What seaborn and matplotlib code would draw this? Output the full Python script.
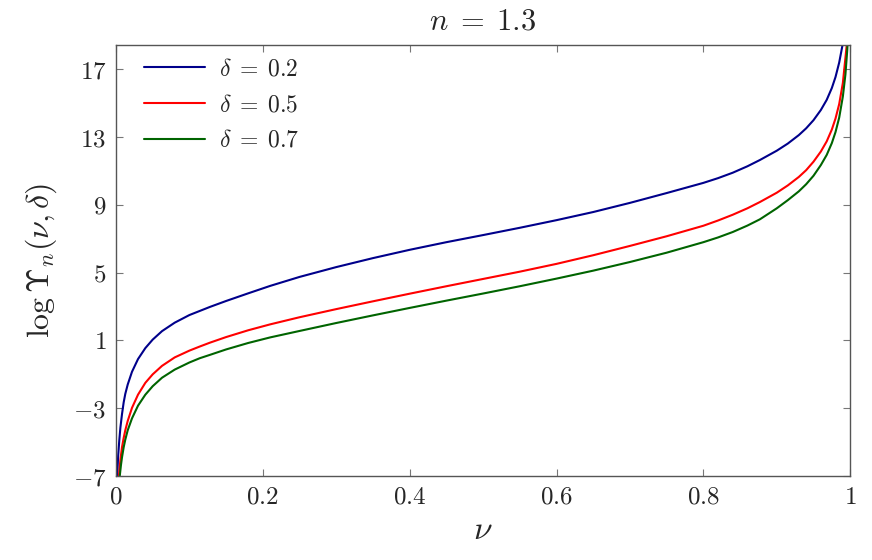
import pandas as pd
import matplotlib

matplotlib.use('Agg')
import matplotlib.pyplot as plt
import seaborn as sns

# values (nu, log Upsilon)
nu_blue = [0.0012, 0.002, 0.003, 0.0045, 0.006, 0.0082, 0.0105, 0.0127, 0.016, 0.0218,
           0.03, 0.04, 0.05, 0.0627, 0.08, 0.1, 0.114, 0.128, 0.15, 0.18,
           0.21, 0.25, 0.3, 0.35, 0.4, 0.45, 0.5, 0.55, 0.6, 0.65,
           0.7, 0.75, 0.8, 0.82, 0.84, 0.86, 0.877, 0.9, 0.915, 0.93,
           0.94, 0.95, 0.96, 0.968, 0.975, 0.98, 0.985, 0.9896, 0.992]
y_blue = [-7.6, -6.7, -5.8, -4.9, -4.15, -3.35, -2.65, -2.15, -1.6, -0.85,
          -0.1, 0.55, 1.05, 1.55, 2.05, 2.5, 2.74, 2.98, 3.33, 3.78,
          4.22, 4.75, 5.33, 5.86, 6.35, 6.8, 7.22, 7.65, 8.1, 8.58,
          9.12, 9.7, 10.3, 10.58, 10.9, 11.28, 11.65, 12.2, 12.62, 13.12,
          13.52, 14.0, 14.6, 15.2, 15.9, 16.55, 17.4, 18.45, 19.0]

nu_red = [0.003, 0.0045, 0.006, 0.0082, 0.0105, 0.0127, 0.016, 0.0218,
          0.03, 0.04, 0.05, 0.0627, 0.08, 0.1, 0.114, 0.128, 0.15, 0.18,
          0.21, 0.25, 0.3, 0.35, 0.4, 0.45, 0.5, 0.55, 0.6, 0.65,
          0.7, 0.75, 0.8, 0.82, 0.84, 0.86, 0.877, 0.9, 0.915, 0.93,
          0.94, 0.95, 0.96, 0.968, 0.975, 0.98, 0.985, 0.99, 0.9953, 0.997]
y_red = [-7.5, -6.75, -6.05, -5.3, -4.75, -4.3, -3.75, -2.98,
         -2.2, -1.5, -1.0, -0.5, 0.0, 0.4, 0.64, 0.87, 1.2, 1.6,
         1.95, 2.37, 2.85, 3.31, 3.76, 4.2, 4.63, 5.06, 5.52, 6.03,
         6.58, 7.15, 7.77, 8.08, 8.42, 8.8, 9.17, 9.72, 10.15, 10.65,
         11.05, 11.55, 12.15, 12.75, 13.45, 14.1, 14.95, 16.2, 18.45, 19.8]

nu_green = [0.0045, 0.0054, 0.0068, 0.0082, 0.0105, 0.0127, 0.016, 0.0218,
            0.03, 0.04, 0.05, 0.0627, 0.08, 0.1, 0.114, 0.128, 0.15, 0.18,
            0.21, 0.25, 0.3, 0.35, 0.4, 0.45, 0.5, 0.55, 0.6, 0.65,
            0.7, 0.75, 0.8, 0.82, 0.84, 0.86, 0.877, 0.9, 0.915, 0.93,
            0.94, 0.95, 0.96, 0.968, 0.975, 0.98, 0.985, 0.99, 0.9935, 0.996, 0.9975]
y_green = [-7.3, -6.9, -6.35, -5.9, -5.3, -4.85, -4.3, -3.6,
           -2.85, -2.2, -1.7, -1.2, -0.72, -0.3, -0.05, 0.15, 0.47, 0.85,
           1.18, 1.56, 2.03, 2.48, 2.92, 3.35, 3.77, 4.2, 4.65, 5.12,
           5.63, 6.18, 6.8, 7.08, 7.4, 7.78, 8.15, 8.8, 9.28, 9.8,
           10.22, 10.72, 11.35, 11.95, 12.65, 13.3, 14.15, 15.4, 16.7, 18.15, 19.4]

labels = [r'$\delta\;=\;0.2$', r'$\delta\;=\;0.5$', r'$\delta\;=\;0.7$']
colors = ['#00008B', '#FF0000', '#006400']

x_ticks = [0, 0.2, 0.4, 0.6, 0.8, 1]
x_tick_labels = ['0', '0.2', '0.4', '0.6', '0.8', '1']
y_ticks = [-7, -3, 1, 5, 9, 13, 17]
y_tick_labels = ['-7', '-3', '1', '5', '9', '13', '17']

frames = []
for nu, y, lab in [(nu_blue, y_blue, labels[0]), (nu_red, y_red, labels[1]), (nu_green, y_green, labels[2])]:
    frames.append(pd.DataFrame({'nu': nu, 'val': y, 'delta': lab}))
df = pd.concat(frames, ignore_index=True)

sns.set_style('ticks')
plt.rcParams['mathtext.fontset'] = 'cm'
plt.rcParams['font.family'] = ['DejaVu Serif']

fig = plt.figure(figsize=(8.72, 5.6), dpi=100)
ax = fig.add_axes([0.133, 0.150, 0.842, 0.770])

sns.lineplot(data=df, x='nu', y='val', hue='delta', palette=dict(zip(labels, colors)),
             estimator=None, sort=False, linewidth=1.5, ax=ax)

ax.set_xlim(0, 1)
ax.set_ylim(-7, 18.45)
ax.set_xticks(x_ticks)
ax.set_xticklabels(['$' + t + '$' for t in x_tick_labels], fontsize=18)
ax.set_yticks(y_ticks)
ax.set_yticklabels(['$' + t + '$' for t in y_tick_labels], fontsize=18)
ax.tick_params(direction='in', length=5, width=0.8, color='#777777',
               top=True, right=True, pad=7)
for s in ax.spines.values():
    s.set_color('#555555')
    s.set_linewidth(1.0)

ax.set_xlabel(r'$\nu$', fontsize=24, labelpad=4)
ax.set_ylabel(r'$\log\Upsilon_n(\nu,\delta)$', fontsize=23, labelpad=10)
ax.set_title(r'$n\;=\;1.3$', fontsize=22, pad=11)

leg = ax.legend(loc='upper left', frameon=False, fontsize=17, handlelength=2.6,
                handletextpad=0.6, labelspacing=0.55, borderaxespad=0.3,
                bbox_to_anchor=(0.015, 1.01))

fig.savefig('out.png', dpi=100)
plt.close()
